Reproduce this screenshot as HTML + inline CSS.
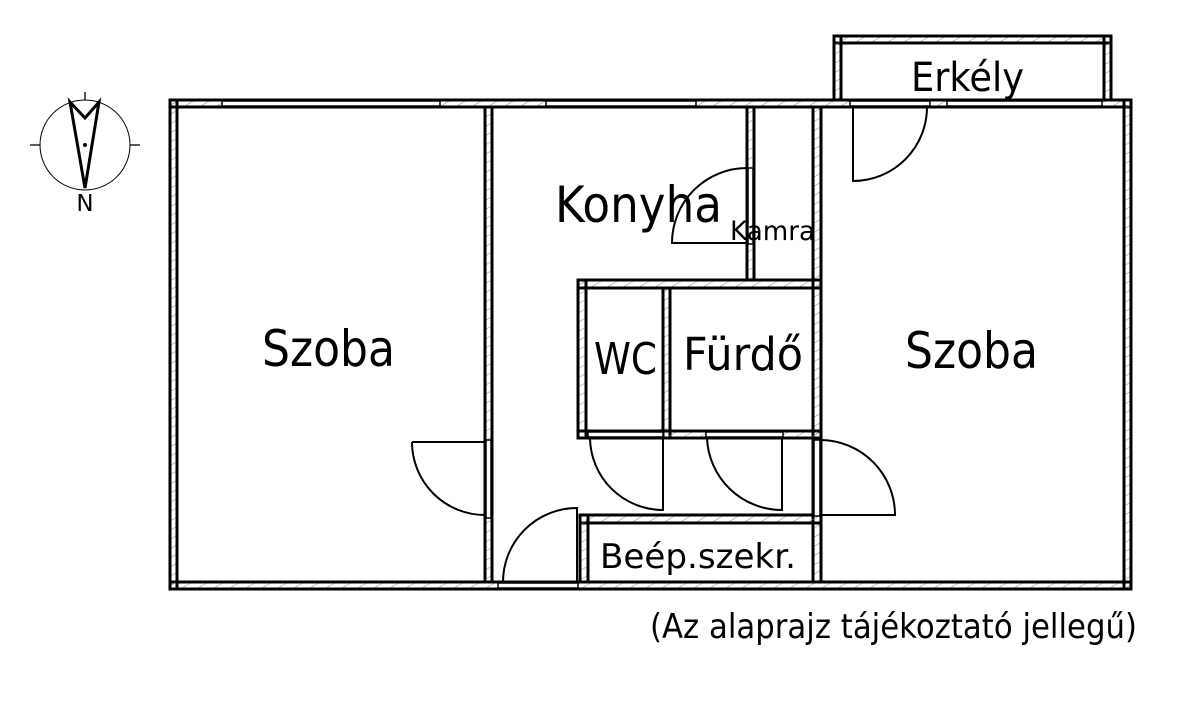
<!DOCTYPE html>
<html><head><meta charset="utf-8"><style>
html,body{margin:0;padding:0;background:#fff;width:1193px;height:720px;overflow:hidden}
text{font-family:"DejaVu Sans","Liberation Sans",sans-serif;fill:#000}
</style></head><body>
<svg width="1193" height="720" viewBox="0 0 1193 720" xmlns="http://www.w3.org/2000/svg">
<defs>
<pattern id="h" width="8" height="8" patternUnits="userSpaceOnUse" patternTransform="rotate(60)">
<line x1="0" y1="0" x2="0" y2="8" stroke="#888" stroke-width="1"/>
</pattern>
</defs>
<g stroke="#000" stroke-width="3" fill="url(#h)">
<rect x="170" y="100" width="961" height="7"/>
<rect x="170" y="582" width="961" height="7"/>
<rect x="170" y="100" width="7" height="489"/>
<rect x="1124" y="100" width="7" height="489"/>
<rect x="834" y="36" width="277" height="7"/>
<rect x="834" y="36" width="7" height="64"/>
<rect x="1104" y="36" width="7" height="64"/>
<rect x="485" y="107" width="7" height="475"/>
<rect x="747" y="107" width="7" height="173"/>
<rect x="813" y="107" width="8" height="475"/>
<rect x="578" y="280" width="243" height="8"/>
<rect x="578" y="280" width="8" height="158"/>
<rect x="663" y="288" width="7" height="150"/>
<rect x="578" y="431" width="243" height="7"/>
<rect x="580" y="515" width="241" height="8"/>
<rect x="580" y="515" width="8" height="67"/>
</g>
<g stroke="#000" stroke-width="1.5" fill="#fff">
<rect x="222" y="101" width="218" height="5"/>
<rect x="546" y="101" width="150" height="5"/>
<rect x="850" y="101" width="80" height="5"/>
<rect x="947" y="101" width="155" height="5"/>
<rect x="486" y="440" width="5" height="78"/>
<rect x="748" y="168" width="5" height="76"/>
<rect x="814" y="440" width="6" height="76"/>
<rect x="588" y="432" width="75" height="5"/>
<rect x="706" y="432" width="77" height="5"/>
<rect x="498" y="583" width="80" height="5"/>
</g>
<g stroke="#000" stroke-width="2" fill="none">
<path d="M412 442 H485 M412 442 A73 73 0 0 0 485 515"/>
<path d="M747 243 H672 A75 75 0 0 1 747 168"/>
<path d="M853 107 V181 A74 74 0 0 0 927 107"/>
<path d="M663 438 V510 A73 73 0 0 1 590 438"/>
<path d="M782 438 V510 A75 75 0 0 1 707 438"/>
<path d="M821 515 H895 A75 75 0 0 0 821 440"/>
<path d="M577 582 V508 A74 74 0 0 0 503 582"/>
</g>
<g stroke="#000" fill="none">
<circle cx="85" cy="145" r="45" stroke-width="1"/>
<line x1="85" y1="92" x2="85" y2="100" stroke-width="1.3"/>
<line x1="30" y1="145" x2="40" y2="145" stroke-width="1.3"/>
<line x1="130" y1="145" x2="140" y2="145" stroke-width="1.3"/>
<path d="M70 102 L85 118 L99 102 L85 188 Z" stroke-width="3" stroke-linejoin="miter"/>
</g>
<circle cx="85" cy="145" r="2" fill="#000"/>
<text x="85" y="211" font-size="23" text-anchor="middle">N</text>
<text x="262" y="366" font-size="50" textLength="133" lengthAdjust="spacingAndGlyphs">Szoba</text>
<text x="555" y="222" font-size="50" textLength="167" lengthAdjust="spacingAndGlyphs">Konyha</text>
<text x="730" y="240" font-size="27" textLength="85" lengthAdjust="spacingAndGlyphs">Kamra</text>
<text x="594" y="374" font-size="44" textLength="63" lengthAdjust="spacingAndGlyphs">WC</text>
<text x="683" y="370" font-size="45" textLength="120" lengthAdjust="spacingAndGlyphs">Fürdő</text>
<text x="905" y="368" font-size="50" textLength="133" lengthAdjust="spacingAndGlyphs">Szoba</text>
<text x="911" y="91" font-size="40" textLength="113" lengthAdjust="spacingAndGlyphs">Erkély</text>
<text x="600" y="568" font-size="34" textLength="196" lengthAdjust="spacingAndGlyphs">Beép.szekr.</text>
<text x="650" y="638" font-size="34" textLength="487" lengthAdjust="spacingAndGlyphs">(Az alaprajz tájékoztató jellegű)</text>
</svg>
</body></html>
